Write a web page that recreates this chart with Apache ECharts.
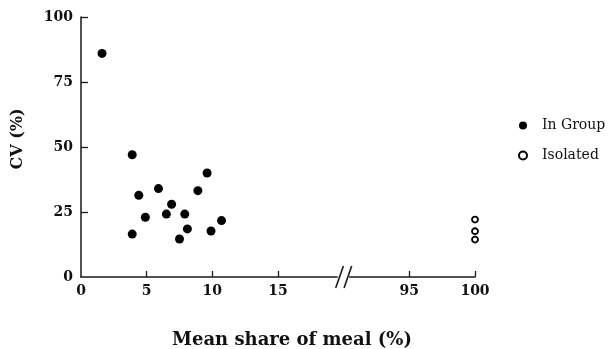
<!DOCTYPE html>
<html>
<head>
<meta charset="utf-8">
<script src="https://cdn.jsdelivr.net/npm/echarts@6/dist/echarts.min.js"></script>
<style>
html,body{margin:0;padding:0;background:#fff;}
#c{width:615px;height:349px;}
</style>
</head>
<body>
<div id="c"></div>
<script>
// Data (mean share of meal %, CV %)
const inGroupX = [1.6, 3.9, 9.6, 4.4, 5.9, 8.9, 6.9, 4.9, 6.5, 7.9, 10.7, 3.9, 8.1, 9.9, 7.5];
const inGroupY = [86, 47, 40, 31.4, 34, 33.2, 28, 23, 24.2, 24.2, 21.7, 16.5, 18.5, 17.7, 14.6];
const isolatedX = [100, 100, 100];
const isolatedY = [22.1, 17.6, 14.4];
const xTickValues = [0, 5, 10, 15, 95, 100];
const yTickValues = [0, 25, 50, 75, 100];
const seriesNames = ['In Group', 'Isolated'];
const xTitle = 'Mean share of meal (%)';
const yTitle = 'CV (%)';

// broken axis: values above the break are shifted down by 70
const BREAK_SHIFT = 70;
const BREAK_AT = 20;
function toAxis(v) { return v >= 90 ? v - BREAK_SHIFT : v; }
function fromAxis(v) { return v > BREAK_AT ? v + BREAK_SHIFT : v; }

const serif = '"DejaVu Serif", serif';
const chart = echarts.init(document.getElementById('c'), null, {renderer: 'canvas'});

const xAxisVals = xTickValues.map(toAxis);

chart.setOption({
  animation: false,
  backgroundColor: '#fff',
  grid: {left: 81, top: 17, width: 394, height: 260, containLabel: false},
  xAxis: {
    type: 'value', min: 0, max: toAxis(100),
    splitLine: {show: false},
    axisLine: {show: true, onZero: false, lineStyle: {color: '#1a1a1a', width: 1.5}},
    axisTick: {show: true, inside: true, length: 6, lineStyle: {color: '#1a1a1a', width: 1.3},
               customValues: xAxisVals.filter(v => v !== 0)},
    axisLabel: {show: true, customValues: xAxisVals, margin: 7,
                color: '#111', fontFamily: serif, fontWeight: 'bold', fontSize: 14,
                formatter: v => String(fromAxis(v))}
  },
  yAxis: {
    type: 'value', min: 0, max: 100, interval: 25,
    splitLine: {show: false},
    axisLine: {show: true, onZero: false, lineStyle: {color: '#1a1a1a', width: 1.5}},
    axisTick: {show: true, inside: true, length: 7, lineStyle: {color: '#1a1a1a', width: 1.3},
               customValues: yTickValues.filter(v => v !== 0)},
    axisLabel: {show: true, customValues: yTickValues, margin: 8,
                color: '#111', fontFamily: serif, fontWeight: 'bold', fontSize: 14}
  },
  legend: {
    orient: 'vertical', left: 513, top: 112,
    itemWidth: 8, itemHeight: 8, itemGap: 13,
    icon: 'circle',
    textStyle: {fontFamily: serif, fontSize: 14, color: '#111', padding: [0, 0, 0, 10], lineHeight: 17},
    data: seriesNames
  },
  series: [
    {
      name: seriesNames[0], type: 'scatter', symbol: 'circle', symbolSize: 9,
      itemStyle: {color: '#000', opacity: 1},
      data: inGroupX.map((x, i) => [toAxis(x), inGroupY[i]])
    },
    {
      name: seriesNames[1], type: 'scatter', symbol: 'circle', symbolSize: 6,
      itemStyle: {color: '#fff', borderColor: '#000', borderWidth: 1.8, opacity: 1},
      data: isolatedX.map((x, i) => [toAxis(x), isolatedY[i]])
    }
  ]
});

// axis break marks and axis titles
const p = chart.convertToPixel({gridIndex: 0}, [BREAK_AT, 0]);
const cx = p[0], cy = p[1];
chart.setOption({
  graphic: [
    {type: 'rect', z: 50, shape: {x: cx - 6, y: cy - 2.5, width: 11.5, height: 5}, style: {fill: '#fff'}},
    {type: 'line', z: 51, shape: {x1: cx - 8, y1: cy + 11, x2: cx - 0.3, y2: cy - 11}, style: {stroke: '#1a1a1a', lineWidth: 1.6}},
    {type: 'line', z: 51, shape: {x1: cx + 0.4, y1: cy + 11, x2: cx + 8, y2: cy - 11}, style: {stroke: '#1a1a1a', lineWidth: 1.6}},
    {type: 'text', z: 52, x: 292, y: 340,
     style: {text: xTitle, fontFamily: serif, fontWeight: 'bold', fontSize: 18, fill: '#111',
             align: 'center', verticalAlign: 'middle'}},
    {type: 'text', z: 52, x: 18, y: 139, rotation: Math.PI / 2,
     style: {text: yTitle, fontFamily: serif, fontWeight: 'bold', fontSize: 16, fill: '#111',
             align: 'center', verticalAlign: 'middle'}}
  ]
});
</script>
</body>
</html>
